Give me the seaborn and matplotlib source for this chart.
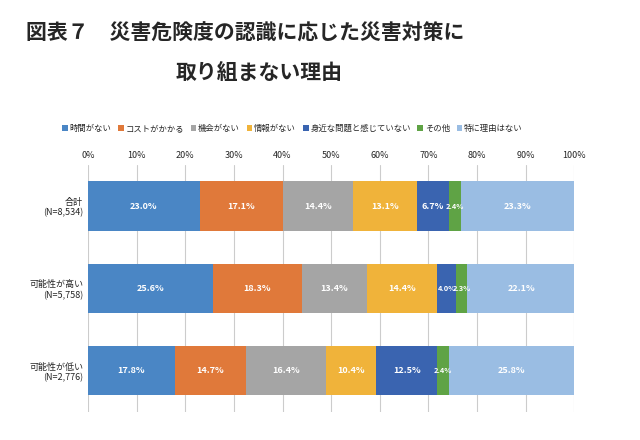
import matplotlib.pyplot as plt
import numpy as np
import pandas as pd
import seaborn as sns

groups = ["合計\n(N=8,534)", "可能性が高い\n(N=5,758)", "可能性が低い\n(N=2,776)"]
reasons = ["時間がない", "コストがかかる", "機会がない", "情報がない",
           "身近な問題と感じていない", "その他", "特に理由はない"]
total = [23.0, 17.1, 14.4, 13.1, 6.7, 2.4, 23.3]
high = [25.6, 18.3, 13.4, 14.4, 4.0, 2.3, 22.1]
low = [17.8, 14.7, 16.4, 10.4, 12.5, 2.4, 25.8]
colors = ["#4a86c5", "#e0793a", "#a5a5a5", "#f0b33a", "#3a64b0", "#5fa345", "#9abde3"]

sns.set_style("white")
plt.rcParams['font.family'] = ['Noto Sans CJK JP', 'DejaVu Sans']

df = pd.DataFrame([total, high, low], index=groups, columns=reasons)

fig = plt.figure(figsize=(6.4, 4.4), dpi=100)
ax = fig.add_axes([0.1375, 0.064, 0.76, 0.561])

left = np.zeros(len(groups))
for r, c in zip(reasons, colors):
    vals = df[r].values
    sns.barplot(x=vals, y=groups, left=left, color=c, orient="h", width=0.6,
                ax=ax, label=r, linewidth=0, saturation=1)
    for i, v in enumerate(vals):
        ax.text(left[i] + v / 2, i, f"{v:.1f}%", ha="center", va="center",
                color="white", fontsize=6.5 if v >= 5 else 5.3, fontweight="bold")
    left = left + vals

ax.set_xlim(0, 100)
ax.set_xticks(np.arange(0, 101, 10))
ax.set_xticklabels([f"{t}%" for t in range(0, 101, 10)], fontsize=6.5)
ax.xaxis.tick_top()
ax.tick_params(axis="y", labelsize=6.5, length=0)
ax.tick_params(axis="x", length=0)
ax.grid(axis="x", color="#cccccc", linewidth=0.8)
ax.set_axisbelow(True)
for s in ax.spines.values():
    s.set_visible(False)
ax.set_xlabel("")
ax.set_ylabel("")

ax.legend(loc="lower center", bbox_to_anchor=(0.42, 1.1), ncol=7, frameon=False,
          fontsize=6, handlelength=0.7, handleheight=0.7, handletextpad=0.2,
          columnspacing=0.8)

fig.text(0.04, 0.925, "図表７　災害危険度の認識に応じた災害対策に", fontsize=15,
         fontweight="bold", va="center")
fig.text(0.275, 0.835, "取り組まない理由", fontsize=15, fontweight="bold", va="center")

plt.savefig("out.png")
